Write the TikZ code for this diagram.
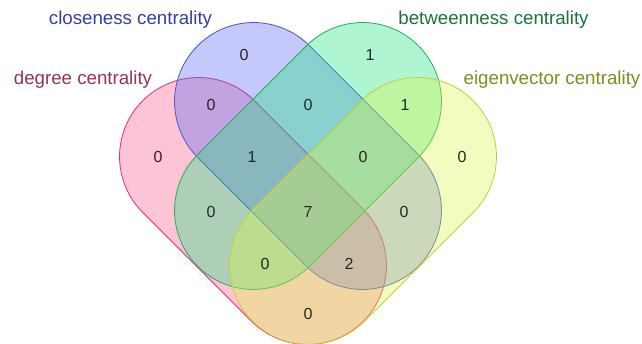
\documentclass[tikz,border=0pt]{standalone}
\usepackage{fontspec}
\setmainfont{Liberation Sans}
\usetikzlibrary{shapes.misc}
\definecolor{degfill}{RGB}{249,87,138}
\definecolor{degline}{RGB}{232,45,115}
\definecolor{degtext}{RGB}{150,50,90}
\definecolor{clofill}{RGB}{86,98,241}
\definecolor{cloline}{RGB}{75,85,200}
\definecolor{clotext}{RGB}{55,60,165}
\definecolor{betfill}{RGB}{29,226,126}
\definecolor{betline}{RGB}{35,175,85}
\definecolor{bettext}{RGB}{25,115,60}
\definecolor{eigfill}{RGB}{218,246,69}
\definecolor{eigline}{RGB}{195,205,60}
\definecolor{eigtext}{RGB}{125,140,30}
\begin{document}
\begin{tikzpicture}[x=1pt, y=-1pt,
	set/.style={rounded rectangle, minimum width=312pt, minimum height=158pt, inner sep=0pt, outer sep=0pt, fill opacity=0.35, line width=0.8pt},
	num/.style={font=\fontsize{16}{19}\selectfont, text=black!85},
	lab/.style={font=\fontsize{18.7}{22}\selectfont}]

	\useasboundingbox (0,0) rectangle (642,344);

	\node [set, rotate=-45, fill=degfill, draw=degline] (degree) at (253,211) {};
	\node [set, rotate=-45, fill=clofill, draw=cloline] (closeness) at (308,156) {};
	\node [set, rotate=45, fill=betfill, draw=betline] (betweenness) at (308,156) {};
	\node [set, rotate=45, fill=eigfill, draw=eigline] (eigenvector) at (363,211) {};

	\node [lab, text=clotext] (closelab) at (130.5,20) {closeness centrality};
	\node [lab, text=degtext] (deglab) at (83,80) {degree centrality};
	\node [lab, text=bettext] (betlab) at (493.5,20) {betweenness centrality};
	\node [lab, text=eigtext] (eiglab) at (552,80) {eigenvector centrality};

	\node [num] (c) at (244,55) {0};
	\node [num] (b) at (370,55) {1};
	\node [num] (d) at (158,157) {0};
	\node [num] (dc) at (211,105) {0};
	\node [num] (cb) at (308,105) {0};
	\node [num] (be) at (405,105) {1};
	\node [num] (e) at (462,157) {0};
	\node [num] (dcb) at (252,157) {1};
	\node [num] (cbe) at (363,157) {0};
	\node [num] (db) at (211,212) {0};
	\node [num] (dcbe) at (308,212) {7};
	\node [num] (ce) at (404,212) {0};
	\node [num] (dbe) at (265,264) {0};
	\node [num] (dce) at (349,264) {2};
	\node [num] (de) at (308,314) {0};
\end{tikzpicture}
\end{document}
